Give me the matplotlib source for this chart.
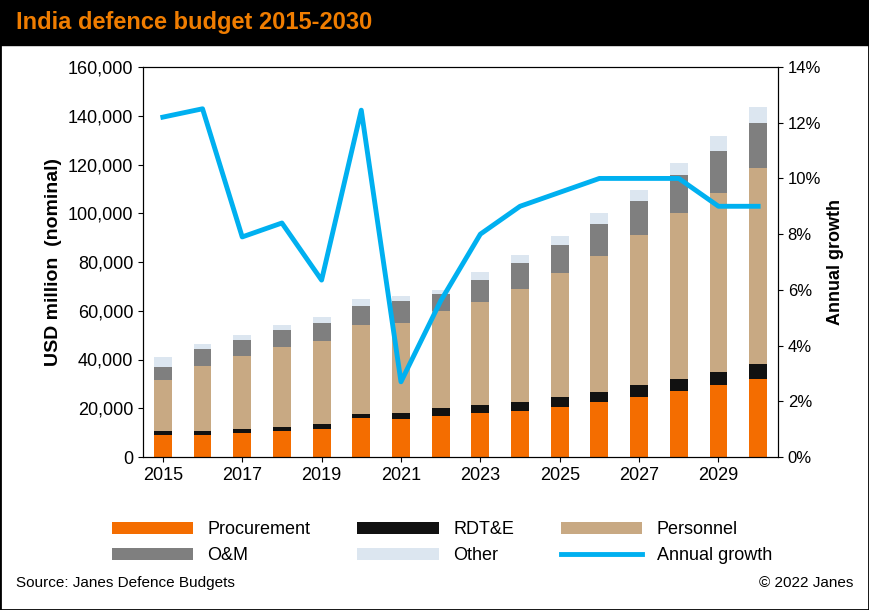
import matplotlib.pyplot as plt
import numpy as np
from matplotlib.patches import Rectangle
from matplotlib.ticker import FuncFormatter

years = list(range(2015, 2031))
procurement = [9000, 9000, 10000, 10500, 11500, 16000, 15500, 17000, 18000, 19000, 20500, 22500, 24500, 27000, 29500, 32000]
rdte_top = [10500, 10500, 11500, 12500, 13500, 17500, 18000, 20000, 21500, 22500, 24500, 26500, 29500, 32000, 35000, 38000]
personnel_top = [31500, 37500, 41500, 45000, 47500, 54000, 55000, 60000, 63500, 69000, 75500, 82500, 91000, 100000, 108500, 118500]
om_top = [37000, 44500, 48000, 52000, 55000, 62000, 64000, 67000, 72500, 79500, 87000, 95500, 105000, 115500, 125500, 137000]
total = [41000, 46500, 50000, 54000, 57500, 65000, 66000, 68500, 76000, 83000, 90500, 100000, 109500, 120500, 131500, 143500]
growth = [12.2, 12.5, 7.9, 8.4, 6.35, 12.45, 2.7, 5.6, 8.0, 9.0, 9.5, 10.0, 10.0, 10.0, 9.0, 9.0]

plt.rcParams["font.family"] = ["Liberation Sans", "DejaVu Sans"]

rdte = np.subtract(rdte_top, procurement)
personnel = np.subtract(personnel_top, rdte_top)
om = np.subtract(om_top, personnel_top)
other = np.subtract(total, om_top)

fig = plt.figure(figsize=(8.69, 6.10), dpi=100)
fig.patches.append(Rectangle((0, 1 - 45 / 610), 1, 45 / 610, transform=fig.transFigure, color="black", zorder=0))
fig.text(0.018, 1 - 22 / 610, "India defence budget 2015-2030", color="#f07d00", fontsize=17,
         fontweight="bold", va="center")

ax = fig.add_axes([143 / 869, 1 - 457 / 610, 635 / 869, 390 / 610])
x = np.arange(len(years))
w = 0.45
b_proc = ax.bar(x, procurement, w, color="#f46d00")
b_rdte = ax.bar(x, rdte, w, bottom=procurement, color="#111111")
b_pers = ax.bar(x, personnel, w, bottom=rdte_top, color="#c8a983")
b_om = ax.bar(x, om, w, bottom=personnel_top, color="#7f7f7f")
b_oth = ax.bar(x, other, w, bottom=om_top, color="#dce6f0")
ax.set_ylim(0, 160000)
ax.set_xlim(-0.5, len(years) - 0.5)
ax.set_yticks(range(0, 160001, 20000))
ax.yaxis.set_major_formatter(FuncFormatter(lambda v, p: f"{int(v):,}"))
ax.set_xticks(x[::2])
ax.set_xticklabels([str(y) for y in years[::2]])
ax.tick_params(labelsize=13)
ax.set_ylabel("USD million  (nominal)", fontsize=14, fontweight="bold")

ax2 = ax.twinx()
line, = ax2.plot(x, growth, color="#00b0f0", lw=3.5)
ax2.set_ylim(0, 14)
ax2.set_yticks(range(0, 15, 2))
ax2.yaxis.set_major_formatter(FuncFormatter(lambda v, p: f"{int(v)}%"))
ax2.tick_params(labelsize=12)
ax2.set_ylabel("Annual growth", fontsize=13, fontweight="bold")

# column-major order so the rows read like the reference
handles = [b_proc, b_om, b_rdte, b_oth, b_pers, line]
labels = ["Procurement", "O&M", "RDT&E", "Other", "Personnel", "Annual growth"]
fig.legend(handles, labels, ncol=3, loc="upper left", bbox_to_anchor=(0.11, 1 - 505 / 610),
           frameon=False, fontsize=13, columnspacing=2.6, handlelength=4.5, handleheight=0.7,
           labelspacing=0.5)

fig.text(0.018, 1 - 583 / 610, "Source: Janes Defence Budgets", fontsize=11, va="center")
fig.text(0.982, 1 - 583 / 610, "© 2022 Janes", fontsize=11, va="center", ha="right")
fig.patches.append(Rectangle((0, 0), 1, 1, transform=fig.transFigure, fill=False, ec="black", lw=2))

fig.savefig("out.png", dpi=100)
